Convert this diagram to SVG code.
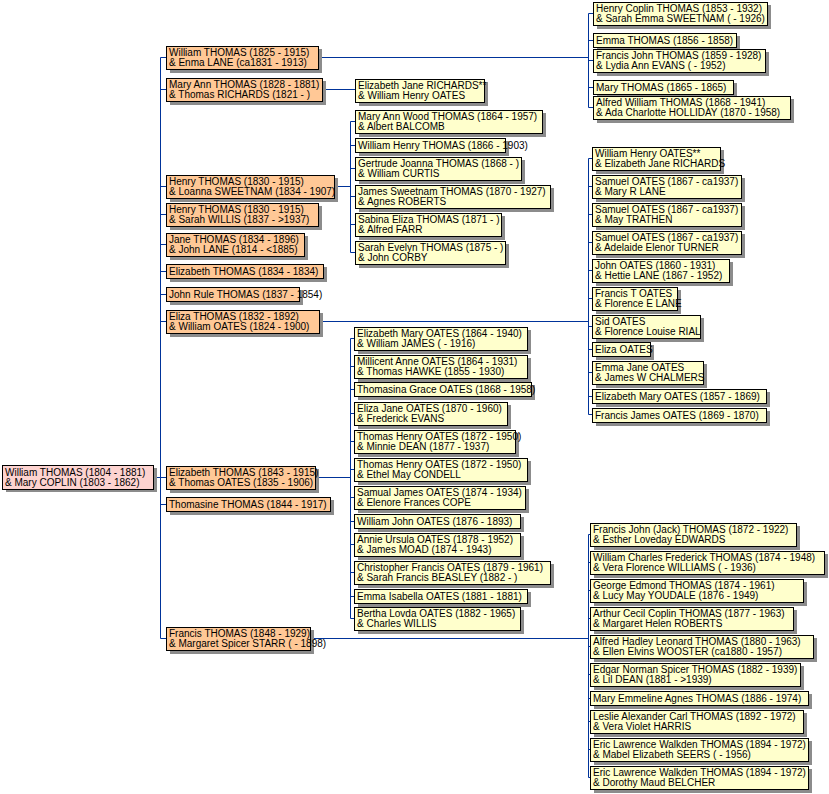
<svg xmlns="http://www.w3.org/2000/svg" width="829" height="794" viewBox="0 0 829 794">
<style>
text{font-family:"Liberation Sans",Arial,sans-serif;font-size:10px;fill:#000}
.sh{fill:#8c8c8c}
.r{stroke:#000;stroke-width:1}
.p{fill:#fdd3d0}.o{fill:#ffc896}.y{fill:#ffffcc}
#c path{stroke:#00339a;stroke-width:1;fill:none}
</style>
<rect width="829" height="794" fill="#fff"/>
<g id="c">
<path d="M153.5 477.5H160.5M160.5 57.5V638.5"/>
<path d="M160.5 57.5H166M160.5 89.5H166M160.5 186.5H166M160.5 214.5H166M160.5 244.5H166M160.5 271.5H166M160.5 294.5H166M160.5 321.5H166M160.5 477.5H166M160.5 504.5H166M160.5 638.5H166"/>
<path d="M318 57.5H588.5M588.5 13.5V107.5M588.5 13.5H593M588.5 40.5H593M588.5 60.5H593M588.5 87.5H593M588.5 107.5H593"/>
<path d="M322 89.5H355"/>
<path d="M334 186.5H350.5M350.5 121.5V252.5M350.5 121.5H355M350.5 145.5H355M350.5 168.5H355M350.5 196.5H355M350.5 224.5H355M350.5 252.5H355"/>
<path d="M319 321.5H588.5M588.5 158.5V414.5M588.5 158.5H592M588.5 186.5H592M588.5 214.5H592M588.5 242.5H592M588.5 270.5H592M588.5 298.5H592M588.5 326.5H592M588.5 349.5H592M588.5 372.5H592M588.5 396.5H592M588.5 414.5H592"/>
<path d="M315 477.5H350.5M350.5 338.5V618.5M350.5 338.5H354M350.5 366.5H354M350.5 389.5H354M350.5 413.5H354M350.5 441.5H354M350.5 469.5H354M350.5 497.5H354M350.5 521.5H354M350.5 544.5H354M350.5 572.5H354M350.5 596.5H354M350.5 618.5H354"/>
<path d="M310 638.5H588.5M588.5 534.5V777.5M588.5 534.5H590M588.5 562.5H590M588.5 590.5H590M588.5 618.5H590M588.5 646.5H590M588.5 674.5H590M588.5 698.5H590M588.5 721.5H590M588.5 749.5H590M588.5 777.5H590"/>
</g>
<g id="n0"><rect class="sh" x="6" y="468" width="151" height="24"/><rect class="r p" x="2.5" y="465.5" width="151" height="24"/><text x="5" y="476">William THOMAS (1804 - 1881)</text><text x="5" y="486">&amp; Mary COPLIN (1803 - 1862)</text></g>
<g id="a1"><rect class="sh" x="170" y="49" width="152" height="24"/><rect class="r o" x="166.5" y="46.5" width="152" height="23"/><text x="169" y="56">William THOMAS (1825 - 1915)</text><text x="169" y="66">&amp; Enma LANE (ca1831 - 1913)</text></g>
<g id="a2"><rect class="sh" x="170" y="81" width="156" height="24"/><rect class="r o" x="166.5" y="78.5" width="156" height="23"/><text x="169" y="88">Mary Ann THOMAS (1828 - 1881)</text><text x="169" y="98">&amp; Thomas RICHARDS (1821 - )</text></g>
<g id="a3"><rect class="sh" x="170" y="178" width="168" height="24"/><rect class="r o" x="166.5" y="175.5" width="168" height="23"/><text x="169" y="185">Henry THOMAS (1830 - 1915)</text><text x="169" y="195">&amp; Loanna SWEETNAM (1834 - 1907)</text></g>
<g id="a4"><rect class="sh" x="170" y="206" width="152" height="24"/><rect class="r o" x="166.5" y="203.5" width="152" height="23"/><text x="169" y="213">Henry THOMAS (1830 - 1915)</text><text x="169" y="223">&amp; Sarah WILLIS (1837 - &gt;1937)</text></g>
<g id="a5"><rect class="sh" x="170" y="236" width="138" height="24"/><rect class="r o" x="166.5" y="233.5" width="138" height="23"/><text x="169" y="243">Jane THOMAS (1834 - 1896)</text><text x="169" y="253">&amp; John LANE (1814 - &lt;1885)</text></g>
<g id="a6"><rect class="sh" x="170" y="267" width="157" height="15"/><rect class="r o" x="166.5" y="264.5" width="157" height="14"/><text x="169" y="275">Elizabeth THOMAS (1834 - 1834)</text></g>
<g id="a7"><rect class="sh" x="170" y="290" width="133" height="15"/><rect class="r o" x="166.5" y="287.5" width="133" height="14"/><text x="169" y="298">John Rule THOMAS (1837 - 1854)</text></g>
<g id="a8"><rect class="sh" x="170" y="313" width="153" height="24"/><rect class="r o" x="166.5" y="310.5" width="153" height="23"/><text x="169" y="320">Eliza THOMAS (1832 - 1892)</text><text x="169" y="330">&amp; William OATES (1824 - 1900)</text></g>
<g id="a9"><rect class="sh" x="170" y="469" width="149" height="24"/><rect class="r o" x="166.5" y="466.5" width="149" height="23"/><text x="169" y="476">Elizabeth THOMAS (1843 - 1915)</text><text x="169" y="486">&amp; Thomas OATES (1835 - 1906)</text></g>
<g id="a10"><rect class="sh" x="170" y="500" width="164" height="15"/><rect class="r o" x="166.5" y="497.5" width="164" height="14"/><text x="169" y="508">Thomasine THOMAS (1844 - 1917)</text></g>
<g id="a11"><rect class="sh" x="170" y="630" width="144" height="24"/><rect class="r o" x="166.5" y="627.5" width="144" height="23"/><text x="169" y="637">Francis THOMAS (1848 - 1929)</text><text x="169" y="647">&amp; Margaret Spicer STARR ( - 1898)</text></g>

<g id="b1"><rect class="sh" x="597" y="5" width="174" height="24"/><rect class="r y" x="593.5" y="2.5" width="174" height="23"/><text x="596" y="12">Henry Coplin THOMAS (1853 - 1932)</text><text x="596" y="22">&amp; Sarah Emma SWEETNAM ( - 1926)</text></g>
<g id="b2"><rect class="sh" x="597" y="36" width="143" height="15"/><rect class="r y" x="593.5" y="33.5" width="143" height="14"/><text x="596" y="44">Emma THOMAS (1856 - 1858)</text></g>
<g id="b3"><rect class="sh" x="597" y="52" width="172" height="24"/><rect class="r y" x="593.5" y="49.5" width="172" height="23"/><text x="596" y="59">Francis John THOMAS (1859 - 1928)</text><text x="596" y="69">&amp; Lydia Ann EVANS ( - 1952)</text></g>
<g id="b4"><rect class="sh" x="597" y="83" width="140" height="15"/><rect class="r y" x="593.5" y="80.5" width="140" height="14"/><text x="596" y="91">Mary THOMAS (1865 - 1865)</text></g>
<g id="b5"><rect class="sh" x="597" y="99" width="197" height="24"/><rect class="r y" x="593.5" y="96.5" width="197" height="23"/><text x="596" y="106">Alfred William THOMAS (1868 - 1941)</text><text x="596" y="116">&amp; Ada Charlotte HOLLIDAY (1870 - 1958)</text></g>

<g id="c1"><rect class="sh" x="359" y="82" width="129" height="24"/><rect class="r y" x="355.5" y="79.5" width="129" height="23"/><text x="358" y="89">Elizabeth Jane RICHARDS**</text><text x="358" y="99">&amp; William Henry OATES</text></g>

<g id="d1"><rect class="sh" x="359" y="113" width="187" height="24"/><rect class="r y" x="355.5" y="110.5" width="187" height="23"/><text x="358" y="120">Mary Ann Wood THOMAS (1864 - 1957)</text><text x="358" y="130">&amp; Albert BALCOMB</text></g>
<g id="d2"><rect class="sh" x="359" y="141" width="150" height="15"/><rect class="r y" x="355.5" y="138.5" width="150" height="14"/><text x="358" y="149">William Henry THOMAS (1866 - 1903)</text></g>
<g id="d3"><rect class="sh" x="359" y="160" width="166" height="24"/><rect class="r y" x="355.5" y="157.5" width="166" height="23"/><text x="358" y="167">Gertrude Joanna THOMAS (1868 - )</text><text x="358" y="177">&amp; William CURTIS</text></g>
<g id="d4"><rect class="sh" x="359" y="188" width="195" height="24"/><rect class="r y" x="355.5" y="185.5" width="195" height="23"/><text x="358" y="195">James Sweetnam THOMAS (1870 - 1927)</text><text x="358" y="205">&amp; Agnes ROBERTS</text></g>
<g id="d5"><rect class="sh" x="359" y="216" width="146" height="24"/><rect class="r y" x="355.5" y="213.5" width="146" height="23"/><text x="358" y="223">Sabina Eliza THOMAS (1871 - )</text><text x="358" y="233">&amp; Alfred FARR</text></g>
<g id="d6"><rect class="sh" x="359" y="244" width="150" height="24"/><rect class="r y" x="355.5" y="241.5" width="150" height="23"/><text x="358" y="251">Sarah Evelyn THOMAS (1875 - )</text><text x="358" y="261">&amp; John CORBY</text></g>

<g id="e1"><rect class="sh" x="596" y="150" width="128" height="24"/><rect class="r y" x="592.5" y="147.5" width="128" height="23"/><text x="595" y="157">William Henry OATES**</text><text x="595" y="167">&amp; Elizabeth Jane RICHARDS</text></g>
<g id="e2"><rect class="sh" x="596" y="178" width="149" height="24"/><rect class="r y" x="592.5" y="175.5" width="149" height="23"/><text x="595" y="185">Samuel OATES (1867 - ca1937)</text><text x="595" y="195">&amp; Mary R LANE</text></g>
<g id="e3"><rect class="sh" x="596" y="206" width="149" height="24"/><rect class="r y" x="592.5" y="203.5" width="149" height="23"/><text x="595" y="213">Samuel OATES (1867 - ca1937)</text><text x="595" y="223">&amp; May TRATHEN</text></g>
<g id="e4"><rect class="sh" x="596" y="234" width="149" height="24"/><rect class="r y" x="592.5" y="231.5" width="149" height="23"/><text x="595" y="241">Samuel OATES (1867 - ca1937)</text><text x="595" y="251">&amp; Adelaide Elenor TURNER</text></g>
<g id="e5"><rect class="sh" x="596" y="262" width="137" height="24"/><rect class="r y" x="592.5" y="259.5" width="137" height="23"/><text x="595" y="269">John OATES (1860 - 1931)</text><text x="595" y="279">&amp; Hettie LANE (1867 - 1952)</text></g>
<g id="e6"><rect class="sh" x="596" y="290" width="85" height="24"/><rect class="r y" x="592.5" y="287.5" width="85" height="23"/><text x="595" y="297">Francis T OATES</text><text x="595" y="307">&amp; Florence E LANE</text></g>
<g id="e7"><rect class="sh" x="596" y="318" width="108" height="24"/><rect class="r y" x="592.5" y="315.5" width="108" height="23"/><text x="595" y="325">Sid OATES</text><text x="595" y="335">&amp; Florence Louise RIAL</text></g>
<g id="e8"><rect class="sh" x="596" y="345" width="58" height="15"/><rect class="r y" x="592.5" y="342.5" width="58" height="14"/><text x="595" y="353">Eliza OATES</text></g>
<g id="e9"><rect class="sh" x="596" y="364" width="111" height="24"/><rect class="r y" x="592.5" y="361.5" width="111" height="23"/><text x="595" y="371">Emma Jane OATES</text><text x="595" y="381">&amp; James W CHALMERS</text></g>
<g id="e10"><rect class="sh" x="596" y="392" width="174" height="15"/><rect class="r y" x="592.5" y="389.5" width="174" height="14"/><text x="595" y="400">Elizabeth Mary OATES (1857 - 1869)</text></g>
<g id="e11"><rect class="sh" x="596" y="411" width="174" height="15"/><rect class="r y" x="592.5" y="408.5" width="174" height="14"/><text x="595" y="419">Francis James OATES (1869 - 1870)</text></g>

<g id="f1"><rect class="sh" x="358" y="330" width="173" height="24"/><rect class="r y" x="354.5" y="327.5" width="173" height="23"/><text x="357" y="337">Elizabeth Mary OATES (1864 - 1940)</text><text x="357" y="347">&amp; William JAMES ( - 1916)</text></g>
<g id="f2"><rect class="sh" x="358" y="358" width="173" height="24"/><rect class="r y" x="354.5" y="355.5" width="173" height="23"/><text x="357" y="365">Millicent Anne OATES (1864 - 1931)</text><text x="357" y="375">&amp; Thomas HAWKE (1855 - 1930)</text></g>
<g id="f3"><rect class="sh" x="358" y="385" width="177" height="15"/><rect class="r y" x="354.5" y="382.5" width="177" height="14"/><text x="357" y="393">Thomasina Grace OATES (1868 - 1958)</text></g>
<g id="f4"><rect class="sh" x="358" y="405" width="153" height="24"/><rect class="r y" x="354.5" y="402.5" width="153" height="23"/><text x="357" y="412">Eliza Jane OATES (1870 - 1960)</text><text x="357" y="422">&amp; Frederick EVANS</text></g>
<g id="f5"><rect class="sh" x="358" y="433" width="161" height="24"/><rect class="r y" x="354.5" y="430.5" width="161" height="23"/><text x="357" y="440">Thomas Henry OATES (1872 - 1950)</text><text x="357" y="450">&amp; Minnie DEAN (1877 - 1937)</text></g>
<g id="f6"><rect class="sh" x="358" y="461" width="173" height="24"/><rect class="r y" x="354.5" y="458.5" width="173" height="23"/><text x="357" y="468">Thomas Henry OATES (1872 - 1950)</text><text x="357" y="478">&amp; Ethel May CONDELL</text></g>
<g id="f7"><rect class="sh" x="358" y="489" width="171" height="24"/><rect class="r y" x="354.5" y="486.5" width="171" height="23"/><text x="357" y="496">Samual James OATES (1874 - 1934)</text><text x="357" y="506">&amp; Elenore Frances COPE</text></g>
<g id="f8"><rect class="sh" x="358" y="517" width="166" height="15"/><rect class="r y" x="354.5" y="514.5" width="166" height="14"/><text x="357" y="525">William John OATES (1876 - 1893)</text></g>
<g id="f9"><rect class="sh" x="358" y="536" width="166" height="24"/><rect class="r y" x="354.5" y="533.5" width="166" height="23"/><text x="357" y="543">Annie Ursula OATES (1878 - 1952)</text><text x="357" y="553">&amp; James MOAD (1874 - 1943)</text></g>
<g id="f10"><rect class="sh" x="358" y="564" width="196" height="24"/><rect class="r y" x="354.5" y="561.5" width="196" height="23"/><text x="357" y="571">Christopher Francis OATES (1879 - 1961)</text><text x="357" y="581">&amp; Sarah Francis BEASLEY (1882 - )</text></g>
<g id="f11"><rect class="sh" x="358" y="592" width="173" height="15"/><rect class="r y" x="354.5" y="589.5" width="173" height="14"/><text x="357" y="600">Emma Isabella OATES (1881 - 1881)</text></g>
<g id="f12"><rect class="sh" x="358" y="610" width="166" height="24"/><rect class="r y" x="354.5" y="607.5" width="166" height="23"/><text x="357" y="617">Bertha Lovda OATES (1882 - 1965)</text><text x="357" y="627">&amp; Charles WILLIS</text></g>

<g id="g1"><rect class="sh" x="594" y="526" width="206" height="24"/><rect class="r y" x="590.5" y="523.5" width="206" height="23"/><text x="593" y="533">Francis John (Jack) THOMAS (1872 - 1922)</text><text x="593" y="543">&amp; Esther Loveday EDWARDS</text></g>
<g id="g2"><rect class="sh" x="594" y="554" width="234" height="24"/><rect class="r y" x="590.5" y="551.5" width="234" height="23"/><text x="593" y="561">William Charles Frederick THOMAS (1874 - 1948)</text><text x="593" y="571">&amp; Vera Florence WILLIAMS ( - 1936)</text></g>
<g id="g3"><rect class="sh" x="594" y="582" width="213" height="24"/><rect class="r y" x="590.5" y="579.5" width="213" height="23"/><text x="593" y="589">George Edmond THOMAS (1874 - 1961)</text><text x="593" y="599">&amp; Lucy May YOUDALE (1876 - 1949)</text></g>
<g id="g4"><rect class="sh" x="594" y="610" width="203" height="24"/><rect class="r y" x="590.5" y="607.5" width="203" height="23"/><text x="593" y="617">Arthur Cecil Coplin THOMAS (1877 - 1963)</text><text x="593" y="627">&amp; Margaret Helen ROBERTS</text></g>
<g id="g5"><rect class="sh" x="594" y="638" width="223" height="24"/><rect class="r y" x="590.5" y="635.5" width="223" height="23"/><text x="593" y="645">Alfred Hadley Leonard THOMAS (1880 - 1963)</text><text x="593" y="655">&amp; Ellen Elvins WOOSTER (ca1880 - 1957)</text></g>
<g id="g6"><rect class="sh" x="594" y="666" width="210" height="24"/><rect class="r y" x="590.5" y="663.5" width="210" height="23"/><text x="593" y="673">Edgar Norman Spicer THOMAS (1882 - 1939)</text><text x="593" y="683">&amp; Lil DEAN (1881 - &gt;1939)</text></g>
<g id="g7"><rect class="sh" x="594" y="694" width="218" height="15"/><rect class="r y" x="590.5" y="691.5" width="218" height="14"/><text x="593" y="702">Mary Emmeline Agnes THOMAS (1886 - 1974)</text></g>
<g id="g8"><rect class="sh" x="594" y="713" width="213" height="24"/><rect class="r y" x="590.5" y="710.5" width="213" height="23"/><text x="593" y="720">Leslie Alexander Carl THOMAS (1892 - 1972)</text><text x="593" y="730">&amp; Vera Violet HARRIS</text></g>
<g id="g9"><rect class="sh" x="594" y="741" width="218" height="24"/><rect class="r y" x="590.5" y="738.5" width="218" height="23"/><text x="593" y="748">Eric Lawrence Walkden THOMAS (1894 - 1972)</text><text x="593" y="758">&amp; Mabel Elizabeth SEERS ( - 1956)</text></g>
<g id="g10"><rect class="sh" x="594" y="769" width="218" height="24"/><rect class="r y" x="590.5" y="766.5" width="218" height="23"/><text x="593" y="776">Eric Lawrence Walkden THOMAS (1894 - 1972)</text><text x="593" y="786">&amp; Dorothy Maud BELCHER</text></g>
</svg>
